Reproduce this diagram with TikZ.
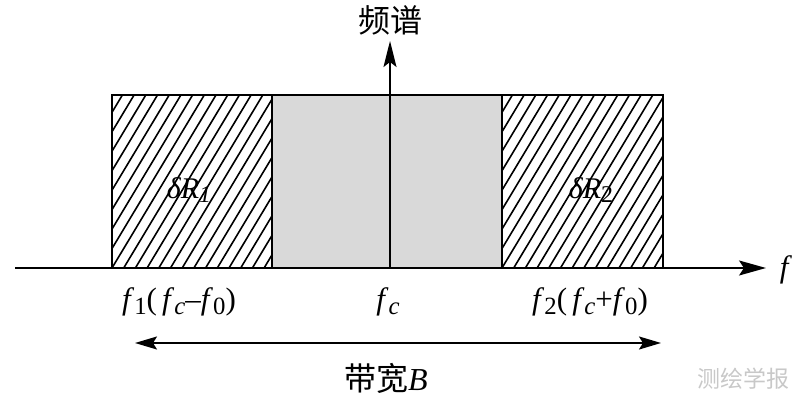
\documentclass[tikz,border=0pt]{standalone}
\usepackage{fontspec}
\setmainfont{Liberation Serif}
\newfontfamily\cjk{Noto Sans CJK SC}
\usetikzlibrary{arrows.meta}
\definecolor{bandgrey}{RGB}{217,217,217}
\definecolor{wmgrey}{RGB}{200,200,200}
\tikzset{
  frame/.style={line width=1.8pt},
  hatchline/.style={line width=1.6pt},
  axisline/.style={line width=1.8pt},
  lbl/.style={inner sep=0pt, font=\fontsize{31}{34}\selectfont},
  rlbl/.style={inner sep=0pt, font=\fontsize{30}{33}\selectfont},
  cjklbl/.style={inner sep=0pt, font=\fontsize{32}{36}\selectfont\cjk},
}
\newcommand{\fit}{\textit{f}}
\newcommand{\sbs}[1]{\raisebox{-0.16em}{\scalebox{0.8}{#1}}}
\begin{document}
\begin{tikzpicture}[x=1pt,y=-1pt]
\useasboundingbox (0,0) rectangle (800,403);
% grey band
\fill[bandgrey] (272,95) rectangle (502,268);
% hatching left
\begin{scope}
  \clip (112,95) rectangle (272,268);
  \foreach \i in {-10,...,16} {
    \draw[hatchline] (112+\i*11.7,268) -- ++(104,-173);
  }
\end{scope}
% hatching right
\begin{scope}
  \clip (502,95) rectangle (663,268);
  \foreach \i in {-10,...,16} {
    \draw[hatchline] (502+\i*11.7,268) -- ++(104,-173);
  }
\end{scope}
% frames
\draw[frame] (112,268) -- (112,95) -- (663,95) -- (663,268);
\draw[frame] (272,95) -- (272,268);
\draw[frame] (502,95) -- (502,268);
% axes
\coordinate (xs) at (15,268);
\coordinate (xe) at (766,268);
\coordinate (ys) at (390,268);
\coordinate (ye) at (390,41);
\draw[axisline, -{Stealth[length=27pt,width=15pt,inset=5pt]}] (xs) -- (xe);
\draw[axisline, -{Stealth[length=26pt,width=13pt,inset=5pt]}] (ys) -- (ye);
\node[lbl] (fax) at (786,270) {\fit};
\node[cjklbl] (spec) at (390,20) {频谱};
% box labels
\node[rlbl] (r1) at (189,190) {\textit{δR}\sbs{\textit{1}}};
\node[rlbl] (r2) at (591,190) {\textit{δR}\sbs{2}};
% bottom labels
\node[lbl] (f1) at (179,302) {\fit\sbs{1}(\,\fit\sbs{\textit{c}}–\fit\sbs{0})};
\node[lbl] (fc) at (388,302) {\fit\sbs{\textit{c}}};
\node[lbl] (f2) at (590,302) {\fit\sbs{2}(\,\fit\sbs{\textit{c}}+\fit\sbs{0})};
% bandwidth arrow
\coordinate (bl) at (135,343);
\coordinate (br) at (661,343);
\draw[axisline, {Stealth[length=22pt,width=13pt,inset=4pt]}-{Stealth[length=22pt,width=13pt,inset=4pt]}] (bl) -- (br);
\node[cjklbl] (bw) at (386,378) {带宽{\rmfamily\itshape B}};
% watermark
\node[inner sep=0pt, font=\fontsize{23}{25}\selectfont\cjk, text=wmgrey] (wm) at (743,379) {测绘学报};
\end{tikzpicture}
\end{document}
